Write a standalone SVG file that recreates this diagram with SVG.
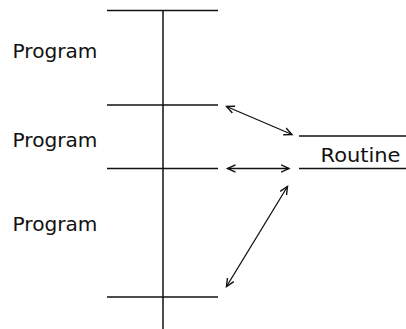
<svg xmlns="http://www.w3.org/2000/svg" width="406" height="329" viewBox="0 0 406 329">
<style>
.ln{stroke:#111;stroke-width:1.5;fill:none}
.ar{stroke:#111;stroke-width:1.3;fill:none;marker-start:url(#ah);marker-end:url(#ah)}
.t{font-family:"DejaVu Sans","Liberation Sans",sans-serif;font-size:20px;fill:#111}
</style>
<defs>
<marker id="ah" markerUnits="userSpaceOnUse" markerWidth="12" markerHeight="12" refX="8" refY="4" orient="auto-start-reverse" viewBox="0 0 12 8">
<path d="M0,0.3 L8,4 L0,7.7" stroke="#111" stroke-width="1.4" fill="none"/>
</marker>
</defs>
<rect width="406" height="329" fill="#fff"/>
<g id="program-stack">
<line class="ln" x1="163" y1="10" x2="163" y2="329"/>
<line class="ln" x1="107" y1="10.5" x2="218" y2="10.5"/>
<line class="ln" x1="107" y1="105" x2="218" y2="105"/>
<line class="ln" x1="107" y1="168.5" x2="218" y2="168.5"/>
<line class="ln" x1="107" y1="297" x2="218" y2="297"/>
</g>
<g id="program1"><text class="t" x="12.5" y="57.5" textLength="85" lengthAdjust="spacingAndGlyphs">Program</text></g>
<g id="program2"><text class="t" x="12.5" y="146.5" textLength="85" lengthAdjust="spacingAndGlyphs">Program</text></g>
<g id="program3"><text class="t" x="12.5" y="230.5" textLength="85" lengthAdjust="spacingAndGlyphs">Program</text></g>
<g id="routine">
<line class="ln" x1="299" y1="136" x2="406" y2="136"/>
<line class="ln" x1="299" y1="168.5" x2="406" y2="168.5"/>
<text class="t" x="320.5" y="161.5" textLength="80" lengthAdjust="spacingAndGlyphs">Routine</text>
</g>
<g id="connectors">
<line class="ar" x1="226.5" y1="106.5" x2="292" y2="134.5"/>
<line class="ar" x1="227.5" y1="168.5" x2="289" y2="168.5"/>
<line class="ar" x1="287.5" y1="186.5" x2="226.5" y2="286.5"/>
</g>
</svg>
